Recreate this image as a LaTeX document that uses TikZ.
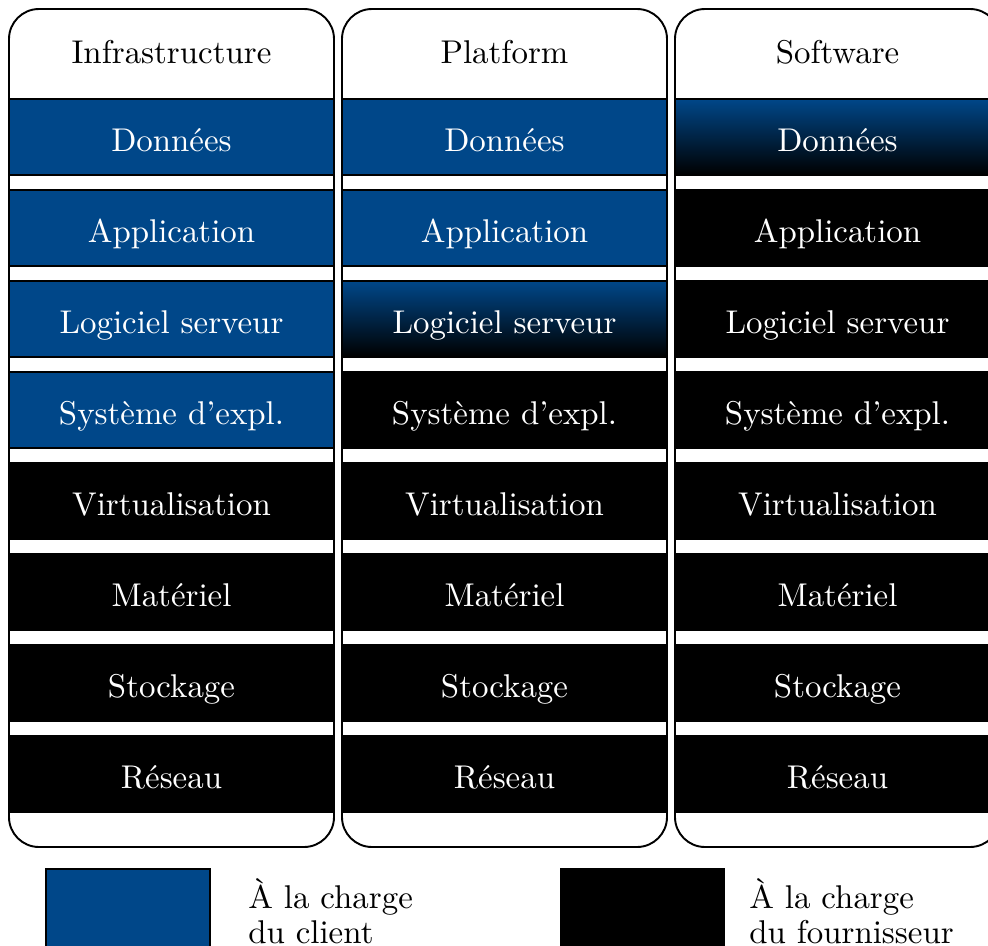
\documentclass[tikz,border=0pt]{standalone}
\definecolor{clientblue}{RGB}{0,71,137}

\begin{document}
\begin{tikzpicture}[x=0.011cm, y=-0.011cm,
  every node/.style={font=\fontsize{10.3}{11}\selectfont},
  layer/.style={draw, semithick, minimum width=3.575cm, minimum height=0.836cm,
                inner sep=0pt, text=white, text height=9pt, text depth=0pt},
  client/.style={layer, fill=clientblue},
  provider/.style={layer, fill=black},
  shared/.style={layer, top color=clientblue, bottom color=black},
  column/.style={draw, semithick, rounded corners=0.33cm},
  legendbox/.style={draw, semithick, minimum width=1.8cm, minimum height=0.85cm, inner sep=0pt},
  legendtext/.style={anchor=west, align=left}]

\useasboundingbox (0,0) rectangle (988,946);

% Infrastructure
\node (infhead) at (171.5,52) {Infrastructure};
\node[client]   (infdata) at (171.5,137) {Données};
\node[client]   (infapp)  at (171.5,228) {Application};
\node[client]   (infsrv)  at (171.5,319) {Logiciel serveur};
\node[client]   (infos)   at (171.5,410) {Système d'expl.};
\node[provider] (infvirt) at (171.5,501) {Virtualisation};
\node[provider] (infhw)   at (171.5,592) {Matériel};
\node[provider] (infsto)  at (171.5,683) {Stockage};
\node[provider] (infnet)  at (171.5,774) {Réseau};
\draw[column] (9,9) rectangle (334,847);

% Platform
\node (plahead) at (504.5,52) {Platform};
\node[client]   (pladata) at (504.5,137) {Données};
\node[client]   (plaapp)  at (504.5,228) {Application};
\node[shared]   (plasrv)  at (504.5,319) {Logiciel serveur};
\node[provider] (plaos)   at (504.5,410) {Système d'expl.};
\node[provider] (plavirt) at (504.5,501) {Virtualisation};
\node[provider] (plahw)   at (504.5,592) {Matériel};
\node[provider] (plasto)  at (504.5,683) {Stockage};
\node[provider] (planet)  at (504.5,774) {Réseau};
\draw[column] (342,9) rectangle (667,847);

% Software
\node (sofhead) at (837.5,52) {Software};
\node[shared]   (sofdata) at (837.5,137) {Données};
\node[provider] (sofapp)  at (837.5,228) {Application};
\node[provider] (sofsrv)  at (837.5,319) {Logiciel serveur};
\node[provider] (sofos)   at (837.5,410) {Système d'expl.};
\node[provider] (sofvirt) at (837.5,501) {Virtualisation};
\node[provider] (sofhw)   at (837.5,592) {Matériel};
\node[provider] (sofsto)  at (837.5,683) {Stockage};
\node[provider] (sofnet)  at (837.5,774) {Réseau};
\draw[column] (675,9) rectangle (1000,847);

% legend
\node[legendbox, fill=clientblue] (legclient) at (128,908) {};
\node[legendtext] (legclienttext) at (237,911) {À la charge\\du client};
\node[legendbox, fill=black] (legprovider) at (642.5,908) {};
\node[legendtext] (legprovidertext) at (738,911) {À la charge\\du fournisseur};
\end{tikzpicture}
\end{document}
